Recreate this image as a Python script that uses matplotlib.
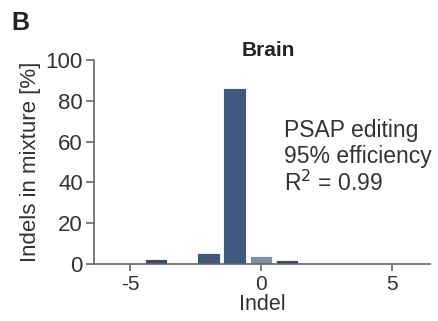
import matplotlib.pyplot as plt

plt.rcParams['font.family'] = ['Liberation Sans', 'DejaVu Sans']
plt.rcParams['axes.unicode_minus'] = False

# Brain indel distribution
indels = [-4, -2, -1, 0, 1]
percent = [2.5, 5.3, 86.5, 4.0, 1.8]
bar_colors = ['#3b4b60', '#3f5877', '#3e5a7e', '#8190a8', '#3a4a5e']

yticks = [0, 20, 40, 60, 80, 100]
xticks = [-5, 0, 5]

text_col = '#333333'
spine_col = '#666666'

fig = plt.figure(figsize=(4.38, 3.21), dpi=100)
ax = fig.add_axes([0.2146, 0.1776, 0.767, 0.6355])

ax.bar(indels, percent, width=0.86, color=bar_colors, edgecolor='white', linewidth=0.6)

ax.set_xlim(-6.37, 6.45)
ax.set_ylim(0, 100)
ax.set_xticks(xticks)
ax.set_yticks(yticks)

for s in ['top', 'right']:
    ax.spines[s].set_visible(False)
for s in ['left', 'bottom']:
    ax.spines[s].set_color(spine_col)
    ax.spines[s].set_linewidth(1.2)

ax.tick_params(axis='y', colors=spine_col, labelcolor=text_col,
               labelsize=16, length=6, width=1.2, pad=2)
ax.tick_params(axis='x', colors=spine_col, labelcolor=text_col,
               labelsize=15, length=5, width=1.2, pad=3)

ax.set_xlabel('Indel', fontsize=15.5, color=text_col, labelpad=0)
ax.set_ylabel('Indels in mixture [%]', fontsize=16, color=text_col, labelpad=3)

ax.text(0.52, 1.0, 'Brain', transform=ax.transAxes, ha='center', va='bottom',
        fontsize=15, fontweight='bold', color='#222222')

ax.text(0.565, 0.71, 'PSAP editing\n95% efficiency\nR$^2$ = 0.99',
        transform=ax.transAxes, ha='left', va='top', fontsize=16.5,
        color=text_col, linespacing=1.15)

fig.text(0.025, 0.965, 'B', ha='left', va='top', fontsize=18,
         fontweight='bold', color='#222222')

fig.savefig('out.png', dpi=100)
